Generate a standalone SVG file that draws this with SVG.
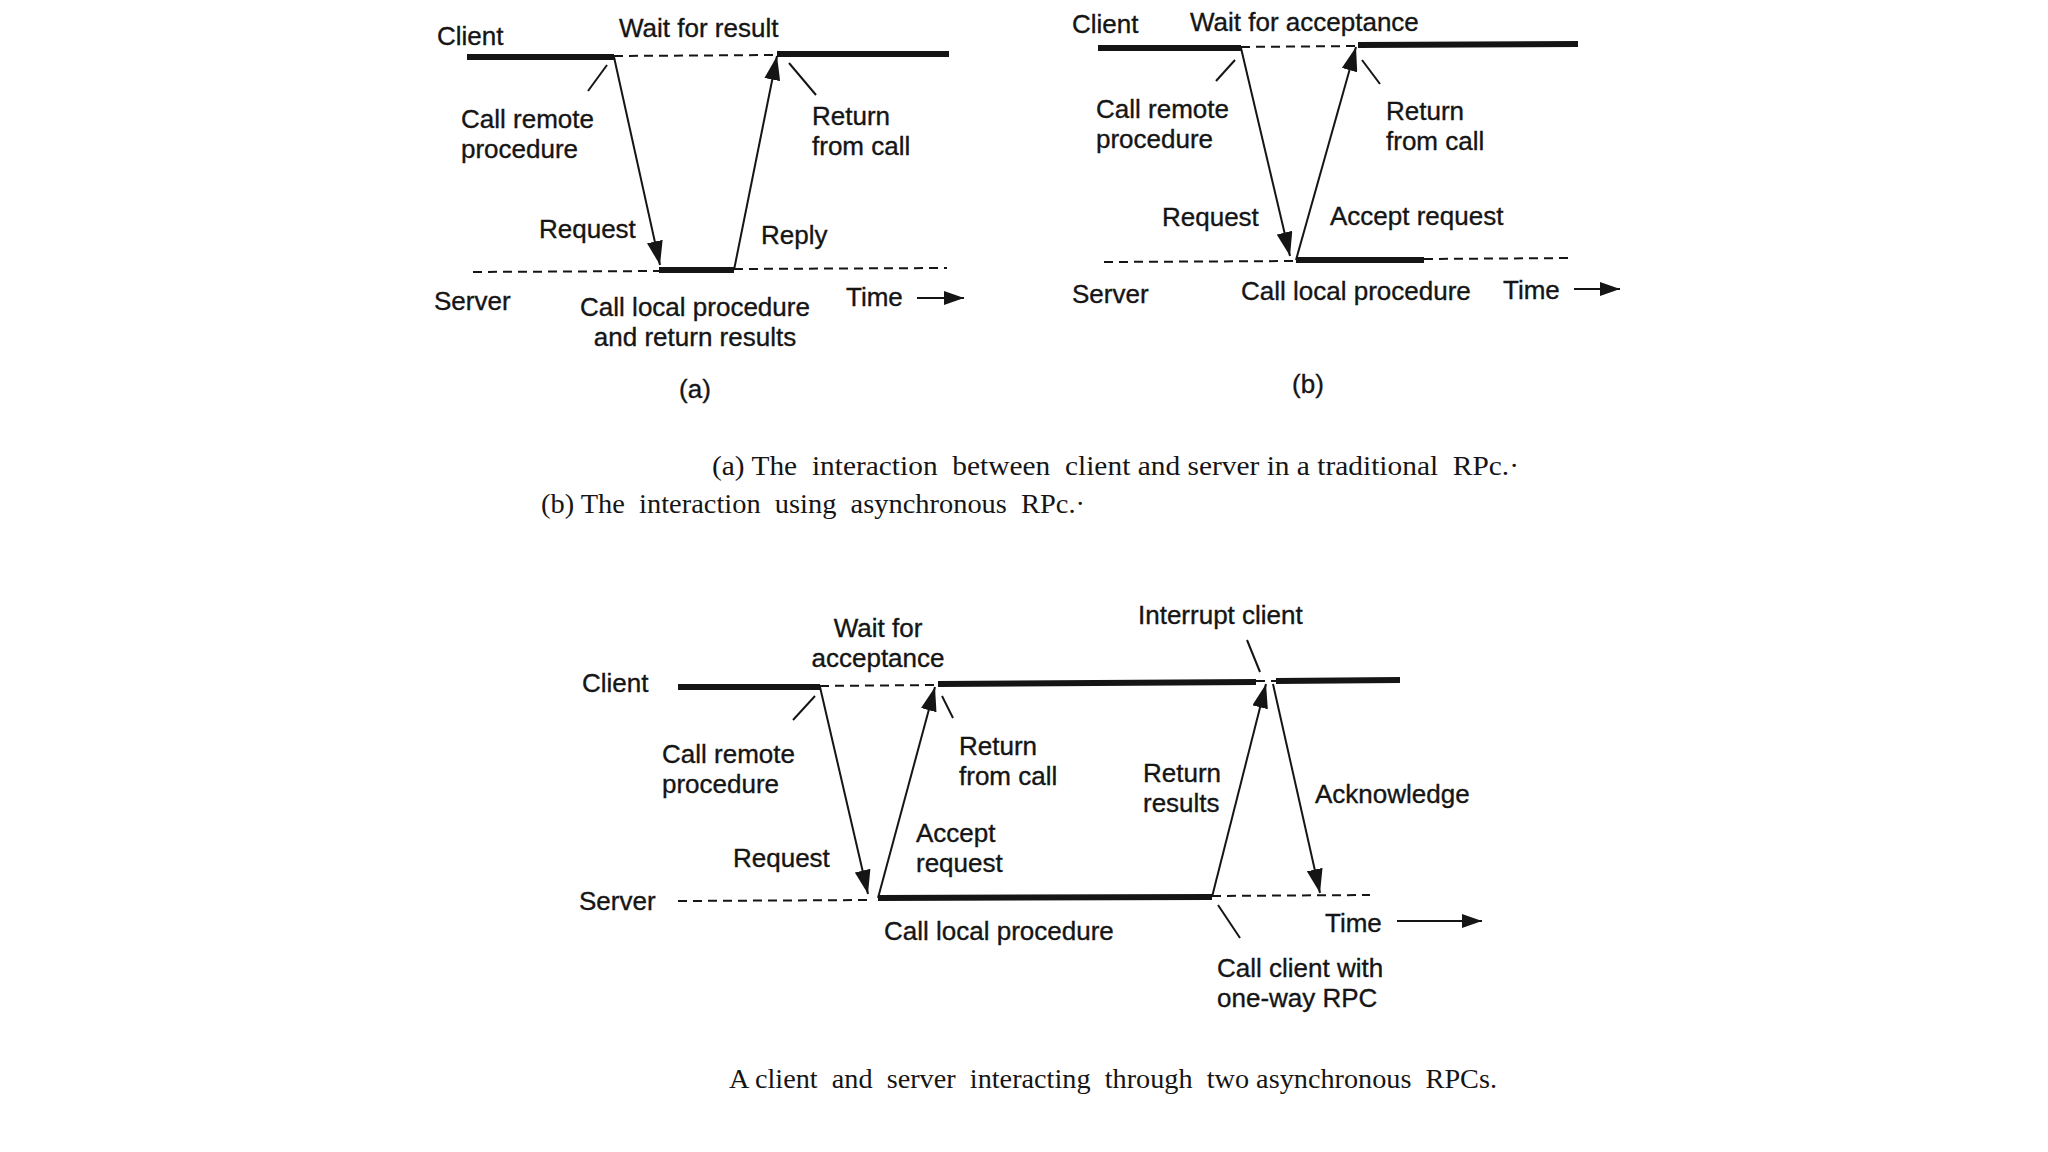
<svg xmlns="http://www.w3.org/2000/svg" width="2048" height="1152" viewBox="0 0 2048 1152">
<style>
.t{font-family:"Liberation Sans",Arial,sans-serif;font-size:26px;fill:#151515;stroke:#151515;stroke-width:0.35}
.c{font-family:"Liberation Serif","Times New Roman",serif;font-size:28px;fill:#151515;white-space:pre}
.mid{text-anchor:middle}
.thick{stroke:#151515;stroke-width:6;fill:none}
.dash{stroke:#151515;stroke-width:2;stroke-dasharray:9 6;fill:none}
.thin{stroke:#151515;stroke-width:2;fill:none}
.arr{stroke:#151515;stroke-width:2;fill:none;marker-end:url(#ah)}
.tarr{stroke:#151515;stroke-width:2;fill:none;marker-end:url(#th)}
</style>
<defs>
<marker id="ah" viewBox="0 0 24 16" refX="24" refY="8" markerWidth="24" markerHeight="16" markerUnits="userSpaceOnUse" orient="auto">
<path d="M0,0 L24,8 L0,16 z" fill="#151515"/>
</marker>
<marker id="th" viewBox="0 0 20 14" refX="20" refY="7" markerWidth="20" markerHeight="14" markerUnits="userSpaceOnUse" orient="auto">
<path d="M0,0 L20,7 L0,14 z" fill="#151515"/>
</marker>
</defs>
<rect width="2048" height="1152" fill="#ffffff"/>

<!-- Diagram (a) -->
<g id="a-client">
<text class="t" x="437" y="45">Client</text>
<line class="thick" x1="467" y1="57" x2="614" y2="57"/>
<line class="dash" x1="614" y1="56" x2="777" y2="55"/>
<line class="thick" x1="777" y1="54" x2="949" y2="54"/>
<text class="t" x="619" y="37">Wait for result</text>
</g>
<g id="a-server">
<text class="t" x="434" y="310">Server</text>
<line class="dash" x1="473" y1="272" x2="659" y2="271"/>
<line class="thick" x1="659" y1="270" x2="734" y2="270"/>
<line class="dash" x1="734" y1="269" x2="947" y2="268"/>
<text class="t mid" x="695" y="316">Call local procedure</text>
<text class="t mid" x="695" y="346">and return results</text>
</g>
<g id="a-labels">
<text class="t" x="461" y="128">Call remote</text>
<text class="t" x="461" y="158">procedure</text>
<text class="t" x="812" y="125">Return</text>
<text class="t" x="812" y="155">from call</text>
<text class="t" x="539" y="238">Request</text>
<text class="t" x="761" y="244">Reply</text>
<text class="t" x="846" y="306">Time</text>
<text class="t mid" x="695" y="398">(a)</text>
</g>

<!-- Diagram (b) -->
<g id="b-client">
<text class="t" x="1072" y="33">Client</text>
<line class="thick" x1="1098" y1="48" x2="1241" y2="48"/>
<line class="dash" x1="1241" y1="47" x2="1358" y2="46"/>
<line class="thick" x1="1358" y1="45" x2="1578" y2="44"/>
<text class="t" x="1190" y="31">Wait for acceptance</text>
</g>
<g id="b-server">
<text class="t" x="1072" y="303">Server</text>
<line class="dash" x1="1104" y1="262" x2="1296" y2="261"/>
<line class="thick" x1="1296" y1="260" x2="1424" y2="260"/>
<line class="dash" x1="1424" y1="259" x2="1574" y2="258"/>
<text class="t" x="1241" y="300">Call local procedure</text>
</g>
<g id="b-labels">
<text class="t" x="1096" y="118">Call remote</text>
<text class="t" x="1096" y="148">procedure</text>
<text class="t" x="1386" y="120">Return</text>
<text class="t" x="1386" y="150">from call</text>
<text class="t" x="1162" y="226">Request</text>
<text class="t" x="1330" y="225">Accept request</text>
<text class="t" x="1503" y="299">Time</text>
<text class="t mid" x="1308" y="393">(b)</text>
</g>

<g id="captions-ab">
<text class="c" x="712" y="475" textLength="807" lengthAdjust="spacingAndGlyphs">(a) The  interaction  between  client and server in a traditional  RPc.·</text>
<text class="c" x="541" y="513" textLength="544" lengthAdjust="spacingAndGlyphs">(b) The  interaction  using  asynchronous  RPc.·</text>
</g>

<!-- Bottom diagram -->
<g id="c-client">
<text class="t" x="582" y="692">Client</text>
<line class="thick" x1="678" y1="687" x2="820" y2="687"/>
<line class="dash" x1="820" y1="686" x2="938" y2="685"/>
<line class="thick" x1="938" y1="684" x2="1256" y2="682"/>
<line class="dash" x1="1256" y1="681" x2="1276" y2="681"/>
<line class="thick" x1="1276" y1="681" x2="1400" y2="680"/>
<text class="t mid" x="878" y="637">Wait for</text>
<text class="t mid" x="878" y="667">acceptance</text>
<text class="t" x="1138" y="624">Interrupt client</text>
</g>
<g id="c-server">
<text class="t" x="579" y="910">Server</text>
<line class="dash" x1="678" y1="901" x2="872" y2="900"/>
<line class="thick" x1="878" y1="898" x2="1212" y2="897"/>
<line class="dash" x1="1212" y1="896" x2="1370" y2="895"/>
<text class="t" x="884" y="940">Call local procedure</text>
</g>
<g id="c-labels">
<text class="t" x="662" y="763">Call remote</text>
<text class="t" x="662" y="793">procedure</text>
<text class="t" x="733" y="867">Request</text>
<text class="t" x="916" y="842">Accept</text>
<text class="t" x="916" y="872">request</text>
<text class="t" x="959" y="755">Return</text>
<text class="t" x="959" y="785">from call</text>
<text class="t" x="1143" y="782">Return</text>
<text class="t" x="1143" y="812">results</text>
<text class="t" x="1315" y="803">Acknowledge</text>
<text class="t" x="1217" y="977">Call client with</text>
<text class="t" x="1217" y="1007">one-way RPC</text>
<text class="t" x="1325" y="932">Time</text>
</g>
<g id="caption-c">
<text class="c" x="729" y="1088" textLength="768" lengthAdjust="spacingAndGlyphs">A client  and  server  interacting  through  two asynchronous  RPCs.</text>
</g>

<!-- Connectors -->
<g id="connectors">
<line class="arr" x1="614" y1="57" x2="660" y2="265"/>
<line class="arr" x1="734" y1="270" x2="777" y2="56"/>
<line class="thin" x1="607" y1="65" x2="588" y2="91"/>
<line class="thin" x1="789" y1="63" x2="816" y2="95"/>
<line class="tarr" x1="917" y1="298" x2="964" y2="298"/>

<line class="arr" x1="1241" y1="48" x2="1290" y2="256"/>
<line class="arr" x1="1296" y1="260" x2="1356" y2="47"/>
<line class="thin" x1="1235" y1="60" x2="1216" y2="81"/>
<line class="thin" x1="1362" y1="60" x2="1380" y2="84"/>
<line class="tarr" x1="1574" y1="289" x2="1620" y2="289"/>

<line class="arr" x1="820" y1="687" x2="868" y2="894"/>
<line class="arr" x1="878" y1="898" x2="935" y2="687"/>
<line class="arr" x1="1212" y1="897" x2="1266" y2="684"/>
<line class="arr" x1="1273" y1="684" x2="1320" y2="893"/>
<line class="thin" x1="815" y1="696" x2="793" y2="720"/>
<line class="thin" x1="942" y1="696" x2="953" y2="718"/>
<line class="thin" x1="1247" y1="640" x2="1260" y2="672"/>
<line class="thin" x1="1218" y1="905" x2="1240" y2="938"/>
<line class="tarr" x1="1397" y1="921" x2="1482" y2="921"/>
</g>
</svg>
